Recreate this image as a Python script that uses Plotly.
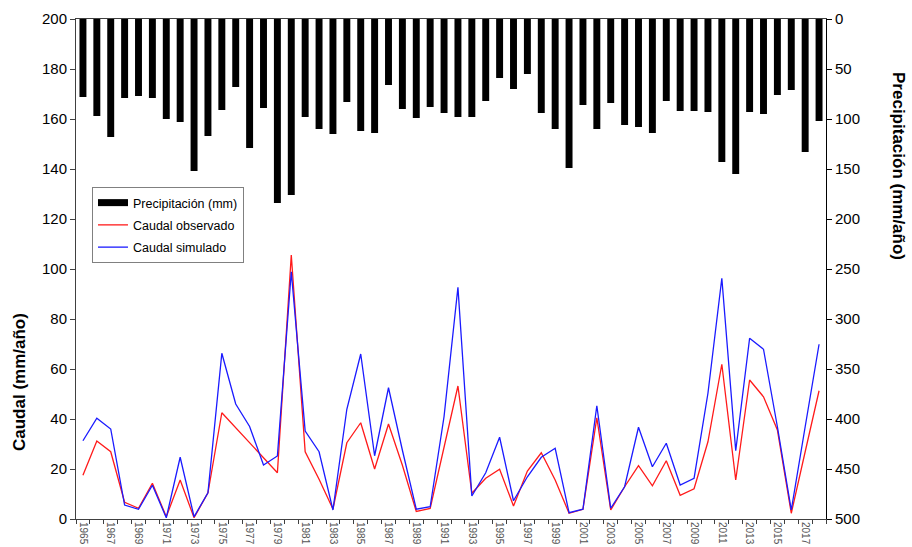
import plotly.graph_objects as go

years = list(range(1965, 2019))

precip = [78, 97, 118, 79, 77, 79, 100, 103, 152, 117, 91, 68, 129, 89, 184, 176, 98, 110, 115, 83,
          112, 114, 66, 90, 99, 88, 94, 98, 98, 82, 59, 70, 55, 94, 110, 149, 86, 110, 84, 106,
          108, 114, 82, 92, 92, 93, 143, 155, 93, 95, 76, 71, 133, 102]

caudal_obs = [17.5, 31.2, 26.9, 6.7, 4.3, 14.3, 0.9, 15.6, 0.5, 10.5, 42.5, 36.5, 30.5, 24.7, 18.5, 105.6,
              26.9, 15.9, 4.0, 30.5, 38.5, 20.0, 38.0, 21.5, 3.0, 4.2, 28.9, 53.2, 10.3, 16.3, 19.9, 5.2,
              19.2, 26.5, 15.6, 2.3, 3.9, 40.5, 3.6, 12.9, 21.3, 13.3, 23.3, 9.5, 12.1, 30.9, 61.9, 15.6,
              55.6, 48.9, 35.6, 2.3, 26.9, 51.3]

caudal_sim = [31.3, 40.3, 36.0, 5.6, 3.9, 13.5, 0.5, 24.7, 0.9, 10.5, 66.3, 46.0, 37.0, 21.6, 25.2, 98.9,
              35.2, 26.9, 3.6, 43.9, 66.0, 25.3, 52.5, 27.5, 3.9, 4.9, 41.0, 92.7, 9.2, 18.5, 32.7, 7.3,
              16.9, 24.7, 28.3, 2.5, 3.9, 45.3, 4.3, 12.9, 36.7, 20.9, 30.3, 13.6, 16.3, 50.3, 96.3, 27.3,
              72.3, 67.9, 36.9, 3.6, 36.9, 69.9]

label_years = [str(y) for y in range(1965, 2019, 2)]

FONT = "Liberation Sans, Arial, sans-serif"

fig = go.Figure()

fig.add_trace(go.Bar(x=years, y=precip, yaxis="y2", marker=dict(color="black", line=dict(width=0)),
                     width=0.5, name="Precipitación (mm)", showlegend=False, legendgroup="a"))
# legend proxy for the bars (wide flat black symbol as in the reference)
fig.add_trace(go.Scatter(x=[None], y=[None], mode="lines", line=dict(color="black", width=7),
                         name="Precipitación (mm)", legendgroup="a"))
fig.add_trace(go.Scatter(x=years, y=caudal_obs, mode="lines", line=dict(color="#FF1A1A", width=1.3),
                         name="Caudal observado", legendgroup="b"))
fig.add_trace(go.Scatter(x=years, y=caudal_sim, mode="lines", line=dict(color="#1A1AFF", width=1.3),
                         name="Caudal simulado", legendgroup="c"))

fig.update_layout(
    width=912, height=547,
    margin=dict(l=76, r=86, t=19, b=28),
    paper_bgcolor="white", plot_bgcolor="white",
    font=dict(family=FONT, color="black"),
    showlegend=True,
    legend=dict(x=0.0213, y=0.664, xanchor="left", yanchor="top",
                bordercolor="#808080", borderwidth=1, bgcolor="white",
                font=dict(size=12.5, family=FONT), tracegroupgap=3, itemwidth=30),
    xaxis=dict(range=[1964.5, 2018.5], tickmode="array", automargin=False,
               tickvals=[int(s) for s in label_years], ticktext=label_years,
               tickangle=90, tickfont=dict(size=10, color="#555555"),
               ticks="", showline=True, linecolor="#404040", linewidth=1, mirror=True,
               showgrid=False, zeroline=False,
               minor=dict(tickmode="linear", tick0=1964.5, dtick=1, ticks="outside",
                          ticklen=4, tickcolor="#404040", showgrid=False)),
    yaxis=dict(range=[0, 200], dtick=20, tick0=0, ticks="outside", ticklen=5, tickcolor="#404040",
               showline=True, linecolor="#404040", linewidth=1, showgrid=False, zeroline=False,
               tickfont=dict(size=15), automargin=False),
    yaxis2=dict(range=[500, 0], dtick=50, tick0=0, overlaying="y", side="right",
                ticks="outside", ticklen=5, tickcolor="black", automargin=False,
                showline=True, linecolor="black", linewidth=1, showgrid=False, zeroline=False,
                tickfont=dict(size=15)),
    annotations=[
        dict(text="<b>Caudal (mm/año)</b>", x=-0.076, y=0.274, xref="paper", yref="paper",
             textangle=-90, showarrow=False, font=dict(size=17, family=FONT),
             xanchor="center", yanchor="middle"),
        dict(text="<b>Precipitación (mm/año)</b>", x=1.0973, y=0.706, xref="paper", yref="paper",
             textangle=90, showarrow=False, font=dict(size=17, family=FONT),
             xanchor="center", yanchor="middle"),
    ],
)

fig.write_html("out.html")
